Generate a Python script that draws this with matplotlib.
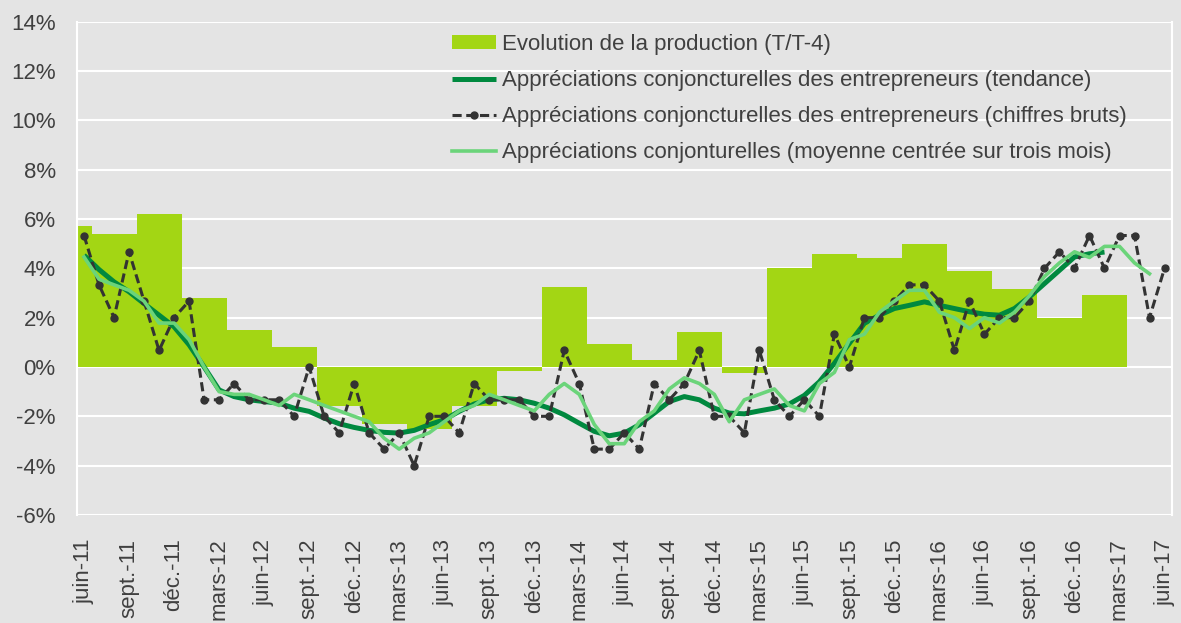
import numpy as np
import matplotlib
matplotlib.use("Agg")
import matplotlib.pyplot as plt
from matplotlib.ticker import FuncFormatter, MultipleLocator

# monthly axis: juin-11 .. juin-17
tick_labels = ["juin-11", "sept.-11", "déc.-11", "mars-12", "juin-12", "sept.-12",
               "déc.-12", "mars-13", "juin-13", "sept.-13", "déc.-13", "mars-14",
               "juin-14", "sept.-14", "déc.-14", "mars-15", "juin-15", "sept.-15",
               "déc.-15", "mars-16", "juin-16", "sept.-16", "déc.-16", "mars-17",
               "juin-17"]

# quarterly production growth (T/T-4), Q2-11 .. Q1-17
production = [5.7, 5.4, 6.2, 2.8, 1.5, 0.8, -1.6, -2.3, -2.5, -1.6, -0.15, 3.25,
              0.95, 0.3, 1.4, -0.25, 4.0, 4.6, 4.4, 5.0, 3.9, 3.15, 2.0, 2.9]

# business opinion, trend (juin-11 .. févr.-17)
trend = [4.53, 3.95, 3.45, 3.05, 2.57, 2.1, 1.63, 0.9, 0.0, -0.93, -1.2, -1.33,
         -1.4, -1.47, -1.67, -1.8, -2.07, -2.3, -2.45, -2.57, -2.65, -2.68, -2.57,
         -2.34, -2.14, -1.8, -1.5, -1.33, -1.27, -1.33, -1.47, -1.67, -1.94, -2.28,
         -2.61, -2.79, -2.68, -2.34, -1.87, -1.4, -1.2, -1.33, -1.67, -1.87, -1.9,
         -1.78, -1.67, -1.5, -1.15, -0.6, 0.15, 0.96, 1.77, 2.1, 2.37, 2.5, 2.64,
         2.5, 2.37, 2.24, 2.14, 2.1, 2.37, 2.84, 3.38, 3.92, 4.46, 4.59, 4.66]

# business opinion, raw figures (juin-11 .. juin-17)
raw = [5.33, 3.33, 2.0, 4.67, 2.67, 0.67, 2.0, 2.67, -1.33, -1.33, -0.67, -1.33,
       -1.33, -1.33, -2.0, 0.0, -2.0, -2.67, -0.67, -2.67, -3.33, -2.67, -4.0,
       -2.0, -2.0, -2.67, -0.67, -1.33, -1.33, -1.33, -2.0, -2.0, 0.67, -0.67,
       -3.33, -3.33, -2.67, -3.33, -0.67, -1.33, -0.67, 0.67, -2.0, -2.0, -2.67,
       0.67, -1.33, -2.0, -1.33, -2.0, 1.33, 0.0, 2.0, 2.0, 2.67, 3.33, 3.33,
       2.67, 0.67, 2.67, 1.33, 2.0, 2.0, 2.67, 4.0, 4.67, 4.0, 5.33, 4.0, 5.33,
       5.33, 2.0, 4.0]

# 3-month centred average (juin-11 .. mai-17)
moving_avg = [4.46, 3.56, 3.33, 3.11, 2.67, 1.78, 1.78, 1.11, 0.0, -1.0, -1.11,
              -1.11, -1.33, -1.56, -1.11, -1.33, -1.56, -1.78, -2.0, -2.22, -2.89,
              -3.33, -2.89, -2.67, -2.22, -1.78, -1.56, -1.11, -1.33, -1.56, -1.78,
              -1.11, -0.67, -1.11, -2.33, -3.11, -3.11, -2.22, -1.78, -0.89, -0.44,
              -0.67, -1.11, -2.22, -1.33, -1.11, -0.89, -1.56, -1.78, -0.67, -0.22,
              1.11, 1.33, 2.22, 2.67, 3.11, 3.11, 2.22, 2.0, 1.56, 2.0, 1.78, 2.22,
              2.89, 3.67, 4.22, 4.67, 4.44, 4.89, 4.89, 4.22, 3.78]

plt.rcParams['font.family'] = ['Liberation Sans', 'DejaVu Sans']
bg = '#e4e4e4'
txt = '#404040'

fig = plt.figure(figsize=(11.81, 6.23), dpi=100, facecolor=bg)
ax = fig.add_axes([0.0648, 0.1734, 0.9276, 0.7918])
ax.set_facecolor(bg)

# quarter bars centred on the middle month of each quarter (month index -1 = mai-11)
q_pos = np.arange(len(production)) * 3 - 1
bars = ax.bar(q_pos, production, width=3, color='#a3d614', zorder=2,
              label='Evolution de la production (T/T-4)')
l_trend, = ax.plot(np.arange(len(trend)), trend, color='#00893f', lw=3.6, zorder=3,
                   solid_capstyle='butt',
                   label='Appréciations conjoncturelles des entrepreneurs (tendance)')
l_raw, = ax.plot(np.arange(len(raw)), raw, color='#333333', lw=2.2, ls=(0, (3, 1.5)),
                 marker='o', markersize=5, zorder=4,
                 label='Appréciations conjoncturelles des entrepreneurs (chiffres bruts)')
l_ma, = ax.plot(np.arange(len(moving_avg)), moving_avg, color='#6bd47a', lw=2.6,
                zorder=5,
                label='Appréciations conjonturelles (moyenne centrée sur trois mois)')

ax.set_xlim(-0.5, 72.5)
ax.set_ylim(-6, 14)
ax.yaxis.set_major_locator(MultipleLocator(2))
ax.yaxis.set_major_formatter(FuncFormatter(lambda v, p: f"{v:.0f}%"))
ax.set_xticks(np.arange(0, 73, 3))
ax.set_xticklabels(tick_labels, rotation=90)
ax.tick_params(axis='both', length=0, labelsize=16, labelcolor=txt)
ax.tick_params(axis='y', pad=15)
ax.tick_params(axis='x', pad=17)
ax.grid(axis='y', color='white', lw=1.5, zorder=0)
ax.set_axisbelow(True)
for s in ax.spines.values():
    s.set_visible(False)
for side in ['left', 'right']:
    ax.spines[side].set_visible(True)
    ax.spines[side].set_color('white')
    ax.spines[side].set_linewidth(1.5)

leg = ax.legend(handles=[bars, l_trend, l_raw, l_ma], loc='upper left',
                bbox_to_anchor=(452 / 1181, 1 - 34 / 623),
                bbox_transform=fig.transFigure, frameon=False, fontsize=16,
                handlelength=2.0, handletextpad=0.25, labelspacing=0.68,
                handleheight=0.6, numpoints=1,
                borderpad=0, borderaxespad=0)
for t in leg.get_texts():
    t.set_color(txt)

fig.savefig('out.png', dpi=100, facecolor=bg)
